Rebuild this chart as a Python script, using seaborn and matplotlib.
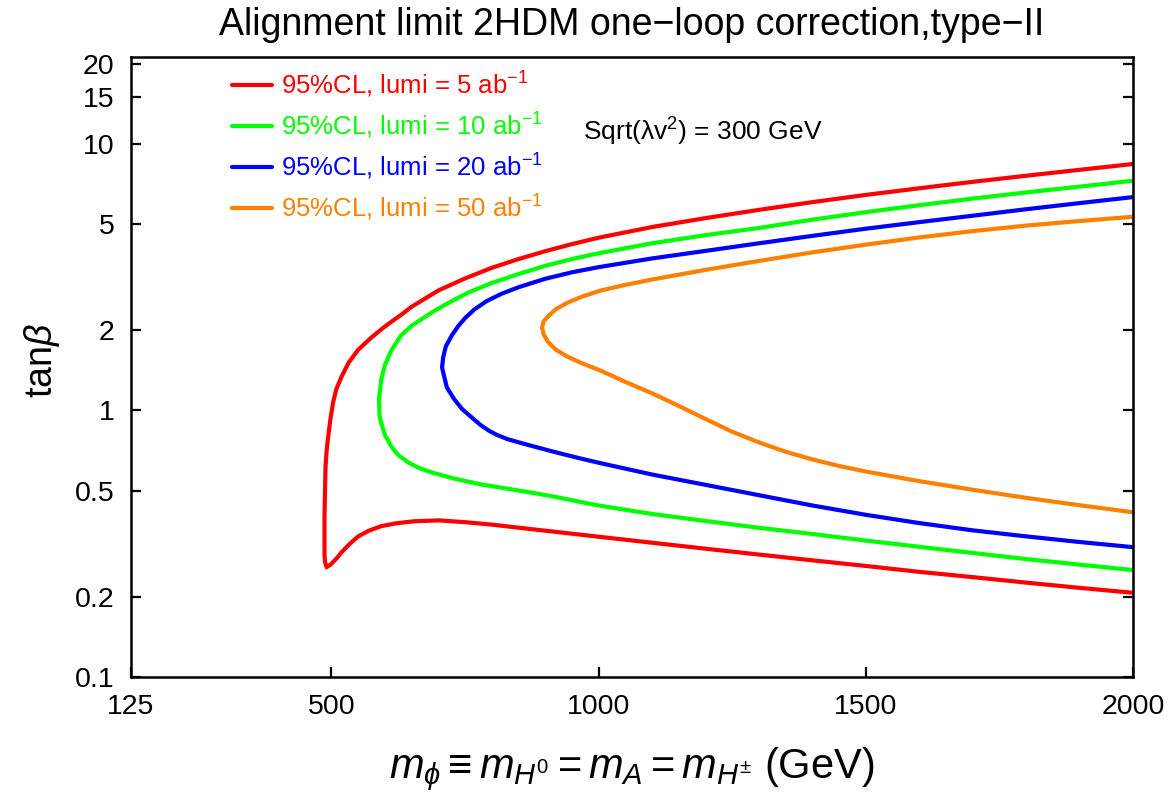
import numpy as np
import pandas as pd
import matplotlib
matplotlib.use("Agg")
import matplotlib.pyplot as plt
import seaborn as sns

# ---- data (m_phi in GeV, tan(beta)) ----
labels = [r"95%CL, lumi = 5 ab$^{-1}$",
          r"95%CL, lumi = 10 ab$^{-1}$",
          r"95%CL, lumi = 20 ab$^{-1}$",
          r"95%CL, lumi = 50 ab$^{-1}$"]
colors = ["#ff0000", "#00ff00", "#0000ff", "#ff8000"]

red_m = [2000, 1900, 1800, 1700, 1600, 1500, 1400, 1300, 1200, 1100, 1000, 950, 900, 850,
         800, 750, 700, 650, 631, 599, 575, 550, 532, 519, 509, 503, 498, 494, 491, 489,
         488, 487, 487, 487, 488, 491, 500, 510, 519, 535, 550, 570, 593, 620, 655, 700,
         750, 800, 900, 1000, 1100, 1200, 1300, 1400, 1500, 1600, 1700, 1800, 1900, 2000]
red_tb = [8.41, 8.00, 7.60, 7.21, 6.82, 6.44, 6.05, 5.66, 5.27, 4.88, 4.45, 4.21, 3.96, 3.70,
          3.43, 3.13, 2.82, 2.45, 2.29, 2.06, 1.88, 1.69, 1.51, 1.34, 1.20, 1.07, 0.925, 0.80, 0.708, 0.617,
          0.50, 0.40, 0.316, 0.288, 0.270, 0.258, 0.266, 0.279, 0.294, 0.317, 0.337, 0.354, 0.368, 0.377, 0.384, 0.387,
          0.381, 0.373, 0.354, 0.336, 0.319, 0.303, 0.288, 0.274, 0.261, 0.248, 0.237, 0.226, 0.216, 0.207]

green_m = [2000, 1900, 1800, 1700, 1600, 1500, 1400, 1300, 1200, 1100, 1000, 950, 900, 850,
           800, 756, 720, 692, 670, 650, 630, 612, 600, 593, 589, 590, 593, 600, 612, 625,
           644, 663, 687, 730, 780, 850, 905, 1000, 1100, 1200, 1300, 1400, 1500, 1600,
           1700, 1800, 1900, 2000]
green_tb = [7.28, 6.92, 6.58, 6.24, 5.89, 5.55, 5.20, 4.84, 4.55, 4.24, 3.89, 3.70, 3.49, 3.25,
            3.01, 2.77, 2.54, 2.36, 2.21, 2.08, 1.91, 1.68, 1.48, 1.30, 1.10, 0.955, 0.90, 0.81, 0.733, 0.68,
            0.638, 0.61, 0.586, 0.555, 0.528, 0.501, 0.48, 0.44, 0.409, 0.385, 0.363, 0.344, 0.325, 0.308,
            0.292, 0.277, 0.264, 0.252]

blue_m = [2000, 1900, 1800, 1700, 1600, 1500, 1400, 1300, 1200, 1100, 1000, 950, 900, 850,
          818, 790, 767, 750, 737, 725, 714, 709, 707, 711, 716, 730, 745, 767, 780, 795,
          810, 830, 860, 910, 960, 1004, 1100, 1200, 1300, 1400, 1500, 1600, 1700, 1800,
          1900, 2000]
blue_tb = [6.32, 6.00, 5.69, 5.38, 5.09, 4.81, 4.52, 4.24, 3.97, 3.72, 3.45, 3.30, 3.12, 2.90,
           2.74, 2.57, 2.39, 2.22, 2.07, 1.91, 1.74, 1.58, 1.45, 1.34, 1.22, 1.10, 1.01, 0.925, 0.879, 0.839,
           0.809, 0.78, 0.75, 0.705, 0.665, 0.634, 0.575, 0.526, 0.481, 0.44, 0.406, 0.378, 0.355, 0.337,
           0.321, 0.307]

orange_m = [2000, 1900, 1800, 1700, 1600, 1500, 1400, 1300, 1200, 1100, 1050, 1004, 970, 942,
            920, 905, 897, 894, 897, 905, 920, 942, 970, 1004, 1050, 1100, 1150, 1200, 1250,
            1300, 1350, 1400, 1450, 1500, 1600, 1700, 1800, 1900, 2000]
orange_tb = [5.33, 5.14, 4.94, 4.71, 4.46, 4.19, 3.92, 3.64, 3.37, 3.10, 2.96, 2.82, 2.68, 2.54,
             2.40, 2.25, 2.16, 2.05, 1.93, 1.81, 1.69, 1.59, 1.50, 1.41, 1.28, 1.16, 1.04, 0.929, 0.832,
             0.759, 0.70, 0.655, 0.619, 0.59, 0.543, 0.504, 0.47, 0.441, 0.415]

x_ticks = [125, 500, 1000, 1500, 2000]
y_ticks = [0.1, 0.2, 0.5, 1, 2, 5, 10, 15, 20]
y_ticklabels = ["0.1", "0.2", "0.5", "1", "2", "5", "10", "15", "20"]

frames = []
for lab, m, tb in zip(labels, [red_m, green_m, blue_m, orange_m],
                      [red_tb, green_tb, blue_tb, orange_tb]):
    frames.append(pd.DataFrame({"m": m, "tb": tb, "series": lab}))
df = pd.concat(frames, ignore_index=True)

# ---- style ----
sns.set_theme(style="ticks")
plt.rcParams["font.family"] = ["Liberation Sans", "DejaVu Sans"]
plt.rcParams["mathtext.fontset"] = "custom"
plt.rcParams["mathtext.rm"] = "Liberation Sans"
plt.rcParams["mathtext.it"] = "Liberation Sans:italic"
plt.rcParams["mathtext.bf"] = "Liberation Sans:bold"
for k in ["text.color", "axes.labelcolor", "xtick.color", "ytick.color", "axes.edgecolor"]:
    plt.rcParams[k] = "black"

fig = plt.figure(figsize=(11.72, 7.96), dpi=100)
ax = fig.add_axes([0.1118, 0.1495, 0.855, 0.7789])

sns.lineplot(data=df, x="m", y="tb", hue="series", hue_order=labels,
             palette=dict(zip(labels, colors)), sort=False, estimator=None,
             units="series", linewidth=3.0, ax=ax, legend=True)
for ln in ax.get_lines():
    ln.set_solid_joinstyle("round")
    ln.set_solid_capstyle("round")

ax.set_yscale("log")
ax.set_xlim(125, 2000)
ax.set_ylim(0.1, 21.2)
ax.set_xticks(x_ticks)
ax.set_xticklabels([str(t) for t in x_ticks])
ax.set_yticks(y_ticks)
ax.set_yticklabels(y_ticklabels)
ax.yaxis.set_minor_locator(matplotlib.ticker.NullLocator())
ax.xaxis.set_minor_locator(matplotlib.ticker.NullLocator())

ax.tick_params(which="major", direction="in", length=7, width=1.6, labelsize=20.5,
               pad=12, right=True, top=False, colors="black")
for sp in ax.spines.values():
    sp.set_linewidth(1.8)
    sp.set_color("black")

ax.set_title("Alignment limit 2HDM one\u2212loop correction,type\u2212II", fontsize=27,
             pad=16, color="black")

ax.set_xlabel(r"$m_{\phi}{\equiv}m_{H^0}{=}m_A{=}m_{H^{\pm}}$ (GeV)", fontsize=30)
ax.xaxis.set_label_coords(0.5, -0.11)
ax.set_ylabel(r"tan$\beta$", fontsize=27)
ax.yaxis.set_label_coords(-0.069, 0.51)

leg = ax.get_legend()
handles = leg.legend_handles
leg.remove()
for h in handles:
    h.set_linewidth(3.0)
ax.legend(handles, labels, loc="upper left", bbox_to_anchor=(0.1008, 0.979),
          frameon=False, fontsize=18.5, handlelength=1.55, handletextpad=0.35,
          labelspacing=0.42, borderpad=0, borderaxespad=0, labelcolor="linecolor")

ax.text(0.451, 0.879, r"Sqrt(λv$^2$) = 300 GeV", transform=ax.transAxes,
        fontsize=19, va="center", ha="left", color="black")

fig.savefig("out.png", dpi=100)
